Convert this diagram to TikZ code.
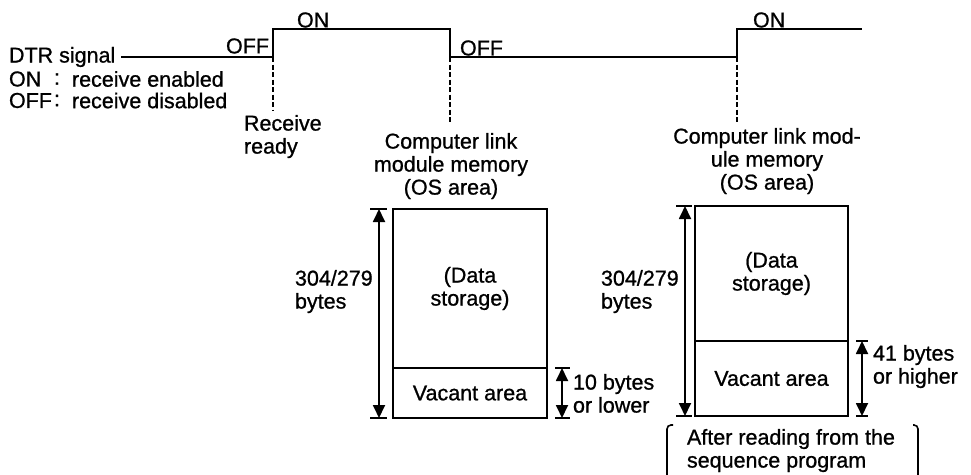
\documentclass[tikz,border=0pt]{standalone}
\usepackage{fontspec}
\setmainfont{Liberation Sans}
\newfontfamily\medfont{Liberation Sans}[FakeBold=0.9]
\usetikzlibrary{arrows.meta}
\begin{document}
\begin{tikzpicture}[x=1pt,y=-1pt,line width=1.8pt,
  lbl/.style={inner sep=0pt,outer sep=0pt,font=\medfont\fontsize{21.5}{23}\selectfont},
  boxnode/.style={lbl,draw,align=center,minimum width=154pt},
  sig/.style={line width=1.8pt},
  dashln/.style={line width=1.8pt,dash pattern=on 5pt off 2.5pt},
  dimarr/.style={line width=1.8pt,{Triangle[width=12pt,length=13pt]}-{Triangle[width=12pt,length=13pt]}},
  tick/.style={line width=1.5pt},
  brk/.style={line width=1.6pt,rounded corners=4pt}]
\useasboundingbox (0,0) rectangle (971,474);

% left legend
\node[lbl,anchor=west] (dtr) at (9,57) {DTR signal};
\node[lbl,anchor=west] (on) at (9,79) {ON};
\node[lbl,anchor=west] (onc) at (54,79) {:};
\node[lbl,anchor=west] (ont) at (72,79) {receive enabled};
\node[lbl,anchor=west] (off) at (9,100.5) {OFF};
\node[lbl,anchor=west] (offc) at (54,100.5) {:};
\node[lbl,anchor=west] (offt) at (72,100.5) {receive disabled};

% signal waveform
\coordinate (s0) at (121,57);
\coordinate (r1) at (273,57);
\coordinate (r1t) at (273,29);
\coordinate (f1t) at (450,29);
\coordinate (f1) at (450,57);
\coordinate (r2) at (737,57);
\coordinate (r2t) at (737,29);
\coordinate (send) at (862,29);
\draw[sig] (s0) -- (r1) -- (r1t) -- (f1t) -- (f1) -- (r2) -- (r2t) -- (send);

\node[lbl,anchor=east] (off1) at (269,46) {OFF};
\node[lbl,anchor=west] (on1) at (297,20) {ON};
\node[lbl,anchor=west] (off2) at (460,48) {OFF};
\node[lbl,anchor=west] (on2) at (753,20) {ON};

% dashed markers
\coordinate (d1) at (273,110);
\coordinate (d2) at (450,122);
\coordinate (d3) at (737,123);
\draw[dashln] (r1) -- (d1);
\draw[dashln] (f1) -- (d2);
\draw[dashln] (r2) -- (d3);

\node[lbl,anchor=north west,align=left] (rr) at (244,115) {Receive\\ready};
\node[lbl,anchor=north,align=center] (clm1) at (451,133) {Computer link\\module memory\\(OS area)};
\node[lbl,anchor=north,align=center] (clm2) at (767,128) {Computer link mod-\\ule memory\\(OS area)};

% memory box 1
\node[boxnode,minimum height=159pt] (ds1) at (470,288.5) {(Data\\storage)};
\node[boxnode,minimum height=50pt] (va1) at (470,393) {Vacant area};
% memory box 2
\node[boxnode,minimum width=153pt,minimum height=135pt] (ds2) at (771.5,273.5) {(Data\\storage)};
\node[boxnode,minimum width=153pt,minimum height=75pt] (va2) at (771.5,378.5) {Vacant area};

% dimension 1 left
\draw[tick] ([xshift=-23pt]ds1.north west) -- ([xshift=-6pt]ds1.north west);
\draw[tick] ([xshift=-23pt]va1.south west) -- ([xshift=-6pt]va1.south west);
\draw[dimarr] ([xshift=-14pt]ds1.north west) -- ([xshift=-14pt]va1.south west);
\node[lbl,anchor=north west,align=left] (b1) at (295,270) {304/279\\bytes};
% dimension 1 right
\draw[tick] ([xshift=8pt]va1.north east) -- ([xshift=23pt]va1.north east);
\draw[tick] ([xshift=8pt]va1.south east) -- ([xshift=23pt]va1.south east);
\draw[dimarr] ([xshift=15pt]va1.north east) -- ([xshift=15pt]va1.south east);
\node[lbl,anchor=north west,align=left] (t1) at (573,374) {10 bytes\\or lower};

% dimension 2 left
\draw[tick] ([xshift=-19pt]ds2.north west) -- ([xshift=-3pt]ds2.north west);
\draw[tick] ([xshift=-19pt]va2.south west) -- ([xshift=-3pt]va2.south west);
\draw[dimarr] ([xshift=-10pt]ds2.north west) -- ([xshift=-10pt]va2.south west);
\node[lbl,anchor=north west,align=left] (b2) at (601,270) {304/279\\bytes};
% dimension 2 right
\draw[tick] ([xshift=8pt]va2.north east) -- ([xshift=20pt]va2.north east);
\draw[tick] ([xshift=8pt]va2.south east) -- ([xshift=20pt]va2.south east);
\draw[dimarr] ([xshift=14pt]va2.north east) -- ([xshift=14pt]va2.south east);
\node[lbl,anchor=north west,align=left] (t2) at (873,345) {41 bytes\\or higher};

% bracket note
\node[lbl,anchor=north west,align=left] (note) at (687,429) {After reading from the\\sequence program};
\coordinate (bl1) at (673,425);
\coordinate (bl2) at (667,425);
\coordinate (bl3) at (667,476);
\coordinate (br1) at (913,425);
\coordinate (br2) at (918,425);
\coordinate (br3) at (918,476);
\draw[brk] (bl1) -- (bl2) -- (bl3);
\draw[brk] (br1) -- (br2) -- (br3);
\end{tikzpicture}
\end{document}
